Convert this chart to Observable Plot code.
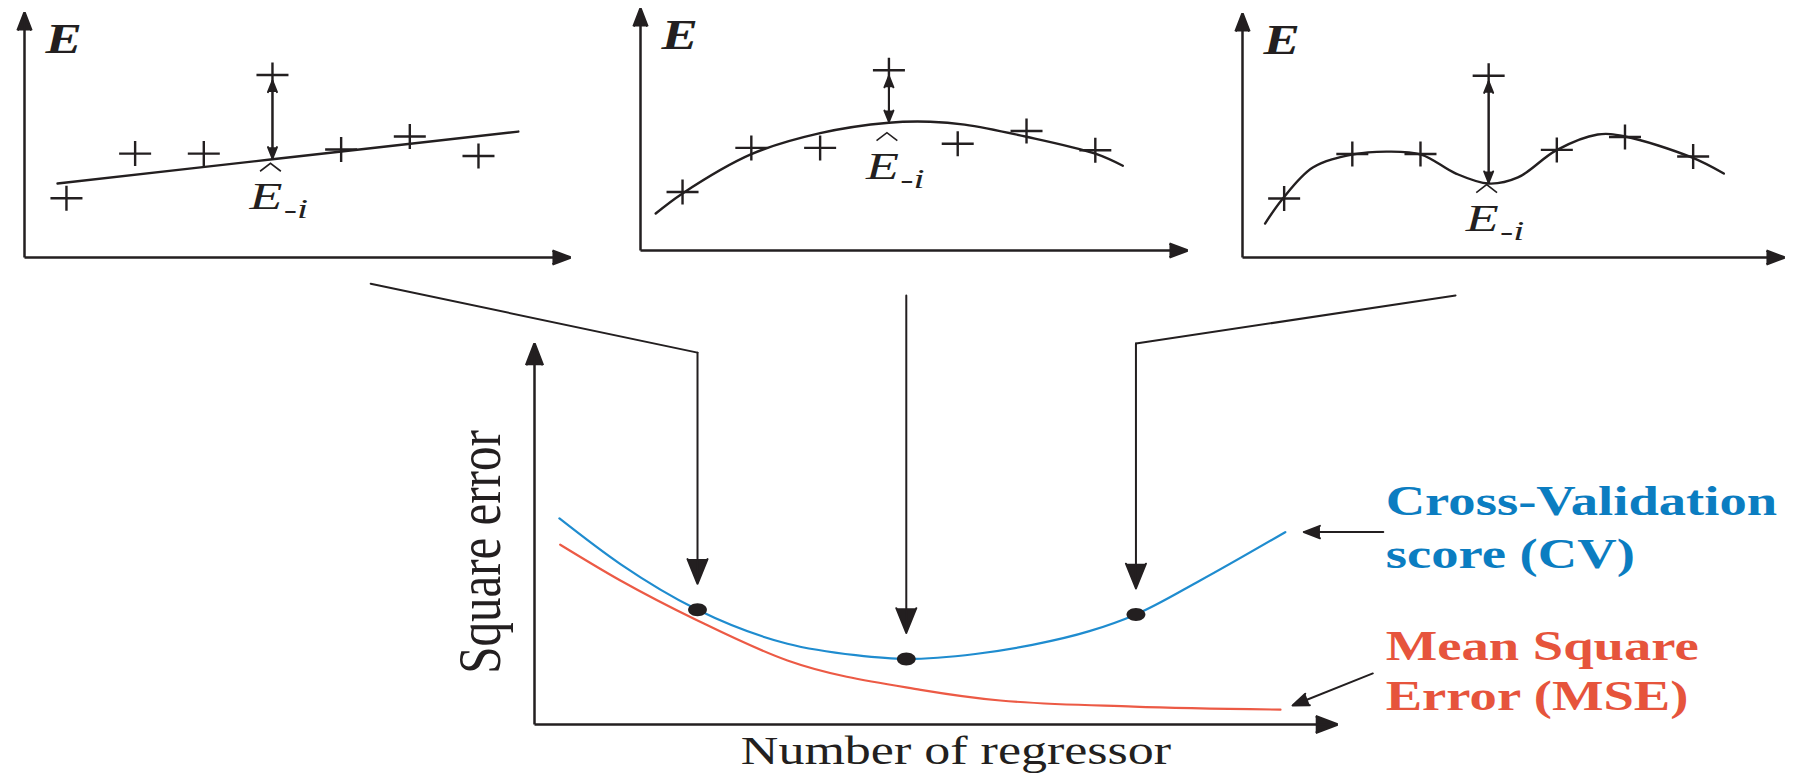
<!DOCTYPE html>
<html>
<head>
<meta charset="utf-8">
<script src="https://cdn.jsdelivr.net/npm/d3@7"></script>
<script src="https://cdn.jsdelivr.net/npm/@observablehq/plot@0.6"></script>
<style>
  html, body { margin: 0; padding: 0; background: #fff; }
  #figure { position: relative; width: 1798px; height: 779px; overflow: hidden; background: #fff; }
  #figure svg { position: absolute; left: 0; top: 0; }
</style>
</head>
<body>
<div id="figure"></div>
<script>
// ---------- data ----------
// Observations shown in every small panel (sample index -> E)
const sampleIndex = [1, 2, 3, 4, 5, 6, 7];
const sampleE = [2.42, 4.24, 4.24, 7.45, 4.41, 4.94, 4.14];
const leftOut = 4; // the i-th sample left out of the fit

// Model fitted without sample i: straight line (few regressors)
const linearFitX = [0.87, 4, 7.58];
const linearFitE = [3.02, 4.01, 5.14];
// Smooth hump (adequate number of regressors)
const smoothFitX = [0.61, 1.0, 2.0, 3.0, 4.0, 4.6, 5.1, 6.0, 7.0, 7.4];
const smoothFitE = [1.53, 2.36, 3.98, 4.85, 5.28, 5.32, 5.2, 4.7, 4.0, 3.5];
// Wiggly curve (too many regressors)
const wigglyFitX = [0.72, 0.97, 1.42, 2.0, 2.5, 3.01, 3.52, 4.0, 4.43, 4.99, 5.6, 6.0, 6.98, 7.45];
const wigglyFitE = [1.39, 2.38, 3.69, 4.22, 4.34, 4.22, 3.44, 3.03, 3.28, 4.39, 5.04, 4.96, 4.10, 3.44];

// Square error against number of regressors
const cvRegressors = [0.31, 1.07, 2.03, 3.15, 4.0, 4.63, 5.49, 6.2, 6.91, 7.49, 8.29, 9.35];
const cvScore = [5.41, 4.21, 3.01, 2.12, 1.82, 1.72, 1.85, 2.09, 2.45, 2.89, 3.78, 5.05];
const mseRegressors = [0.32, 1.07, 2.03, 3.15, 4.81, 5.80, 7.46, 9.29];
const mseValues = [4.72, 3.78, 2.73, 1.68, 0.91, 0.63, 0.47, 0.39];

// Models pictured in the three panels (number of regressors)
const chosenRegressors = [2.03, 4.63, 7.49];

// Text
const cvLegend = ["Cross-Validation", "score (CV)"];
const mseLegend = ["Mean Square", "Error (MSE)"];
const xTitle = "Number of regressor";
const yTitle = "Square error";
const panelTitle = "E";

// ---------- styling & layout ----------
const W = 1798, H = 779;
const INK = "#231f20";
const CV_LINE = "#1f8ccf", MSE_LINE = "#ec5a45";
const CV_TEXT = "#0b7dc1", MSE_TEXT = "#e6543c";
const SERIF = "'Liberation Serif', 'Times New Roman', serif";
const BASE = {background: "transparent", overflow: "visible"};
const SVGNS = "http://www.w3.org/2000/svg";

const panelX = [0.389, 8.34];
const panelY = [0, 10];
const panelBoxes = [
  {left: 24, right: 570, top: 12, bottom: 257, labelDy: 50},
  {left: 640, right: 1187, top: 8, bottom: 250, labelDy: 56},
  {left: 1242, right: 1784, top: 13, bottom: 257, labelDy: 47}
];
const panelFits = [[linearFitX, linearFitE], [smoothFitX, smoothFitE], [wigglyFitX, wigglyFitE]];

// Wide "+" marker for observations
const widePlus = {
  draw(ctx, size) {
    const r = Math.sqrt(size / Math.PI);
    ctx.moveTo(-1.28 * r, 0); ctx.lineTo(1.28 * r, 0);
    ctx.moveTo(0, -r); ctx.lineTo(0, r);
  }
};
// Circumflex (estimate hat) drawn over the label
const hatSymbol = {
  draw(ctx, size) {
    const r = Math.sqrt(size / Math.PI);
    ctx.moveTo(-1.3 * r, 0.5 * r); ctx.lineTo(0, -0.5 * r); ctx.lineTo(1.3 * r, 0.5 * r);
  }
};
// Slightly oval dot for the selected models
const oval = {
  draw(ctx, size) {
    const r = Math.sqrt(size / Math.PI), rx = 1.45 * r, ry = r, k = 0.5523;
    ctx.moveTo(rx, 0);
    ctx.bezierCurveTo(rx, ry * k, rx * k, ry, 0, ry);
    ctx.bezierCurveTo(-rx * k, ry, -rx, ry * k, -rx, 0);
    ctx.bezierCurveTo(-rx, -ry * k, -rx * k, -ry, 0, -ry);
    ctx.bezierCurveTo(rx * k, -ry, rx, -ry * k, rx, 0);
    ctx.closePath();
  }
};

function drawPanel(box, fitX, fitE) {
  const samples = sampleIndex.map((x, i) => ({x, e: sampleE[i]}));
  const fit = fitX.map((x, i) => ({x, e: fitE[i]}));
  const observed = samples.find(d => d.x === leftOut);
  const estimate = fit.find(d => d.x === leftOut);
  const axes = [
    {x1: panelX[0], y1: panelY[0], x2: panelX[0], y2: panelY[1]},
    {x1: panelX[0], y1: panelY[0], x2: panelX[1], y2: panelY[0]}
  ];
  const gap = [{x: leftOut, fitted: estimate.e, actual: observed.e}];
  const arrowStyle = {stroke: INK, fill: INK, strokeWidth: 2, headAngle: 44, headLength: 9};
  return Plot.plot({
    width: W, height: H,
    marginLeft: box.left, marginRight: W - box.right,
    marginTop: box.top, marginBottom: H - box.bottom,
    x: {domain: panelX, axis: null},
    y: {domain: panelY, axis: null},
    style: BASE,
    marks: [
      Plot.arrow(axes, {x1: "x1", y1: "y1", x2: "x2", y2: "y2", stroke: INK, fill: INK,
        strokeWidth: 2.5, headAngle: 42, headLength: 11.6, strokeLinecap: "butt"}),
      Plot.line(fit, {x: "x", y: "e", curve: "catmull-rom", stroke: INK, strokeWidth: 2.4}),
      Plot.dot(samples, {x: "x", y: "e", symbol: widePlus, r: 12.5, stroke: INK, fill: "none", strokeWidth: 2.4}),
      Plot.arrow(gap, {x: "x", y1: "fitted", y2: "actual", insetStart: 1, insetEnd: 6, ...arrowStyle}),
      Plot.arrow(gap, {x: "x", y1: "actual", y2: "fitted", insetStart: 6, insetEnd: 1, ...arrowStyle}),
      Plot.text([panelTitle], {frameAnchor: "top-left", dx: 21, dy: 11, lineAnchor: "top", textAnchor: "start",
        fontFamily: SERIF, fontStyle: "italic", fontWeight: "bold", fontSize: 42, fill: INK}),
      // leave-one-out estimate label: italic E with subscript -i, and a hat above
      Plot.text([estimate], {x: "x", y: "e", text: () => "E-i", dx: -23, dy: box.labelDy, lineAnchor: "bottom",
        textAnchor: "start", fontFamily: SERIF, fontStyle: "italic", fontSize: 38, fill: INK,
        ariaDescription: "estimate"}),
      Plot.dot([estimate], {x: "x", y: "e", symbol: hatSymbol, r: 8, dx: -2, dy: box.labelDy - 42,
        stroke: INK, fill: "none", strokeWidth: 1.6})
    ]
  });
}

function drawMain() {
  const cv = cvRegressors.map((x, i) => ({x, y: cvScore[i]}));
  const mse = mseRegressors.map((x, i) => ({x, y: mseValues[i]}));
  const chosen = chosenRegressors.map(x => ({x, y: cvScore[cvRegressors.indexOf(x)]}));
  // Leader lines from each panel down to its model on the CV curve
  const routes = [
    [[-2.04, 11.57], [chosen[0].x, 9.76]],
    [[chosen[1].x, 11.26]],
    [[11.47, 11.26], [chosen[2].x, 10.0]]
  ];
  const leaders = routes.flatMap((r, j) => r.length > 1 ? r.map(([x, y]) => ({x, y, j})) : []);
  const drops = routes.map((r, j) => ({x1: r.at(-1)[0], y1: r.at(-1)[1], x2: chosen[j].x, y2: chosen[j].y}));
  const axes = [{x1: 0, y1: 0, x2: 0, y2: 10}, {x1: 0, y1: 0, x2: 10, y2: 0}];
  const cvEnd = cv.at(-1), mseEnd = mse.at(-1);
  const pointers = [
    {x1: cvEnd.x + 1.22, y1: cvEnd.y, x2: cvEnd.x + 0.23, y2: cvEnd.y},
    {x1: mseEnd.x + 1.15, y1: mseEnd.y + 0.95, x2: mseEnd.x + 0.15, y2: mseEnd.y + 0.11}
  ];
  const legendX = 10.6;
  const legendStyle = {textAnchor: "start", lineAnchor: "bottom", fontFamily: SERIF, fontWeight: "bold", fontSize: 42};
  return Plot.plot({
    width: W, height: H,
    marginLeft: 534, marginRight: W - 1337, marginTop: 343, marginBottom: H - 724,
    x: {domain: [0, 10], axis: null},
    y: {domain: [0, 10], axis: null},
    style: BASE,
    marks: [
      Plot.line(leaders, {x: "x", y: "y", z: "j", stroke: INK, strokeWidth: 2}),
      Plot.arrow(drops, {x1: "x1", y1: "y1", x2: "x2", y2: "y2", insetEnd: 26, stroke: INK, fill: INK,
        strokeWidth: 2, headAngle: 44, headLength: 20}),
      Plot.arrow(axes, {x1: "x1", y1: "y1", x2: "x2", y2: "y2", stroke: INK, fill: INK,
        strokeWidth: 2.5, headAngle: 42, headLength: 14, strokeLinecap: "butt"}),
      Plot.line(mse, {x: "x", y: "y", curve: "monotone-x", stroke: MSE_LINE, strokeWidth: 2.2}),
      Plot.line(cv, {x: "x", y: "y", curve: "monotone-x", stroke: CV_LINE, strokeWidth: 2.2}),
      Plot.dot(chosen, {x: "x", y: "y", symbol: oval, r: 6.5, fill: INK, stroke: "none"}),
      Plot.arrow(pointers, {x1: "x1", y1: "y1", x2: "x2", y2: "y2", stroke: INK, fill: INK,
        strokeWidth: 2, headAngle: 42, headLength: 13}),
      Plot.text([cvLegend[0]], {x: () => legendX, y: () => 5.49, fill: CV_TEXT, ...legendStyle}),
      Plot.text([cvLegend[1]], {x: () => legendX, y: () => 4.12, fill: CV_TEXT, ...legendStyle}),
      Plot.text([mseLegend[0]], {x: () => legendX, y: () => 1.68, fill: MSE_TEXT, ...legendStyle}),
      Plot.text([mseLegend[1]], {x: () => legendX, y: () => 0.37, fill: MSE_TEXT, ...legendStyle}),
      Plot.text([xTitle], {frameAnchor: "bottom", dx: 20, dy: 39, lineAnchor: "bottom", textAnchor: "middle",
        fontFamily: SERIF, fontSize: 40, fill: INK}),
      Plot.text([yTitle], {frameAnchor: "left", rotate: -90, dx: -54, dy: 18, textAnchor: "middle",
        lineAnchor: "middle", fontFamily: SERIF, fontSize: 49, fill: INK})
    ]
  });
}

// Horizontally widen the serif lettering
function widenText(svg) {
  svg.querySelectorAll("text").forEach(t => {
    const g = t.closest("g[aria-description]");
    if (g && g.getAttribute("aria-description") === "estimate") return;
    const tr = t.getAttribute("transform") || "";
    if (tr.includes("rotate")) {
      // rotated title: widen the glyphs across the line instead
      t.setAttribute("transform", tr + " scale(1,1.25)");
      return;
    }
    const len = t.getComputedTextLength();
    if (len > 0) {
      t.setAttribute("textLength", (len * 1.3).toFixed(1));
      t.setAttribute("lengthAdjust", "spacingAndGlyphs");
    }
  });
}

// Compose the estimate label: italic E followed by the lowered subscript -i
function composeEstimate(svg) {
  svg.querySelectorAll('g[aria-description="estimate"] text').forEach(t => {
    t.textContent = "";
    const e = document.createElementNS(SVGNS, "tspan");
    e.textContent = "E";
    const sub = document.createElementNS(SVGNS, "tspan");
    sub.textContent = "-i";
    sub.setAttribute("font-size", 28);
    sub.setAttribute("dx", 1);
    sub.setAttribute("dy", 9);
    t.append(e, sub);
    t.setAttribute("transform", (t.getAttribute("transform") || "") + " scale(1.42,1)");
  });
}

const figure = document.getElementById("figure");
const charts = [drawMain(), ...panelBoxes.map((b, i) => drawPanel(b, ...panelFits[i]))];
charts.forEach(c => { figure.appendChild(c); widenText(c); composeEstimate(c); });
</script>
</body>
</html>
